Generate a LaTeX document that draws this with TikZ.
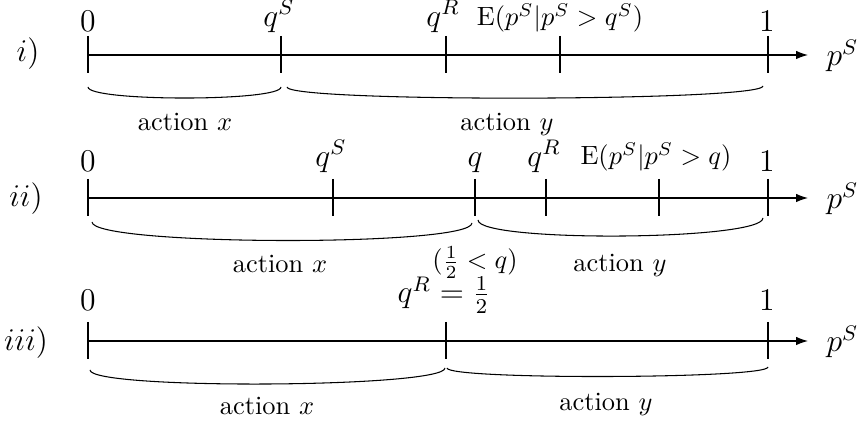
\documentclass[tikz,border=0pt]{standalone}
\usetikzlibrary{arrows.meta,calc}
\begin{document}
\begin{tikzpicture}[x=0.3788pt,y=-0.3788pt,
  axisline/.style={-{Latex[length=4.5pt,width=3.2pt]}},
  toplab/.style={anchor=south,inner sep=0pt,font=\large},
  toplabsmall/.style={anchor=south,inner sep=0pt},
  actlab/.style={anchor=base,inner sep=0pt},
  endlab/.style={anchor=west,inner sep=0pt,font=\large},
  rowlab/.style={inner sep=0pt,font=\large},
  brc/.style={to path={.. controls ($(\tikztostart)+(0,#1)$) and ($(\tikztotarget)+(0,#1)$) .. (\tikztotarget)}}]
\useasboundingbox (0,0) rectangle (862,424);

% ---------- row i ----------
\coordinate (ia) at (88,55);
\coordinate (iz) at (808,55);
\draw[axisline] (ia) -- (iz);
\foreach \x in {88,281,446,560,768} \draw (\x,36) -- (\x,73);
\node[toplab] (i0) at (88,32) {$0$};
\node[toplab] (iqs) at (279,33) {$q^S$};
\node[toplab] (iqr) at (443,33) {$q^R$};
\node[toplabsmall] (ie) at (560,33) {$\mathrm{E}(p^S|p^S>q^S)$};
\node[toplab] (i1) at (767,32) {$1$};
\node[endlab] (ip) at (826,56) {$p^S$};
\node[rowlab] (ilab) at (28,54) {$i)$};
\coordinate (ib1) at (88,87);
\coordinate (ib2) at (281,87);
\coordinate (ib3) at (287,87);
\coordinate (ib4) at (763,86);
\draw (ib1) to[brc=14.7] (ib2);
\draw (ib3) to[brc=15.5] (ib4);
\node[actlab] (ix) at (185,131) {action $x$};
\node[actlab] (iy) at (507,131) {action $y$};

% ---------- row ii ----------
\coordinate (iia) at (88,198);
\coordinate (iiz) at (808,198);
\draw[axisline] (iia) -- (iiz);
\foreach \x in {88,333,475,546,659,768} \draw (\x,179) -- (\x,216);
\node[toplab] (ii0) at (88,172) {$0$};
\node[toplab] (iiqs) at (331,173) {$q^S$};
\node[toplab] (iiq) at (475,173) {$q$};
\node[toplab] (iiqr) at (544,173) {$q^R$};
\node[toplabsmall] (iie) at (656,172) {$\mathrm{E}(p^S|p^S>q)$};
\node[toplab] (ii1) at (767,172) {$1$};
\node[endlab] (iip) at (826,199) {$p^S$};
\node[rowlab] (iilab) at (26,199) {$ii)$};
\coordinate (iib1) at (92,222);
\coordinate (iib2) at (472,223);
\coordinate (iib3) at (478,220);
\coordinate (iib4) at (763,218);
\draw (iib1) to[brc=24] (iib2);
\draw (iib3) to[brc=22.7] (iib4);
\node[actlab] (iix) at (280,273) {action $x$};
\node[actlab] (iiq2) at (475,269) {$(\frac{1}{2}<q)$};
\node[actlab] (iiy) at (620,272) {action $y$};

% ---------- row iii ----------
\coordinate (iiia) at (88,341);
\coordinate (iiiz) at (808,341);
\draw[axisline] (iiia) -- (iiiz);
\foreach \x in {88,446,768} \draw (\x,322) -- (\x,359);
\node[toplab] (iii0) at (88,311) {$0$};
\node[toplab] (iiiqr) at (444,314) {$q^R=\frac{1}{2}$};
\node[toplab] (iii1) at (767,311) {$1$};
\node[endlab] (iiip) at (826,342) {$p^S$};
\node[rowlab] (iiilab) at (26,343) {$iii)$};
\coordinate (iiib1) at (90,370);
\coordinate (iiib2) at (445,368);
\coordinate (iiib3) at (447,368);
\coordinate (iiib4) at (768,367);
\draw (iiib1) to[brc=20] (iiib2);
\draw (iiib3) to[brc=12] (iiib4);
\node[actlab] (iiix) at (267,415) {action $x$};
\node[actlab] (iiiy) at (606,411) {action $y$};
\end{tikzpicture}
\end{document}
